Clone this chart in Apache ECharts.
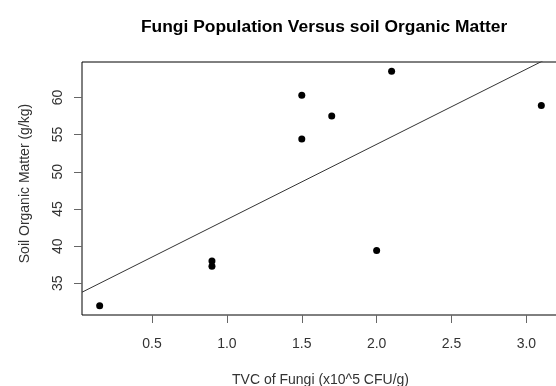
<!DOCTYPE html>
<html>
<head>
<meta charset="utf-8">
<script src="https://cdn.jsdelivr.net/npm/echarts@6/dist/echarts.min.js"></script>
<style>
  html, body { margin: 0; padding: 0; background: #fff; }
  #main { width: 556px; height: 386px; }
</style>
</head>
<body>
<div id="main"></div>
<script>
// data
const fungiTVC = [0.15, 0.9, 0.9, 1.5, 1.5, 1.7, 2.0, 2.1, 3.1]
const organicMatter = [32.0, 38.0, 37.3, 60.3, 54.4, 57.5, 39.4, 63.5, 58.9]
const xTicks = [0.5, 1.0, 1.5, 2.0, 2.5, 3.0]
const yTicks = [35, 40, 45, 50, 55, 60]

// R style axis limits: data range plus 4% each side
function pad(arr) {
  let lo = Math.min(...arr), hi = Math.max(...arr)
  let d = (hi - lo) * 0.04
  return [lo - d, hi + d]
}
const [xMin, xMax] = pad(fungiTVC)
const [yMin, yMax] = pad(organicMatter)

// least squares fit (abline(lm(y ~ x)))
let n = fungiTVC.length
let mx = fungiTVC.reduce((a, b) => a + b, 0) / n
let my = organicMatter.reduce((a, b) => a + b, 0) / n
let sxy = 0, sxx = 0
for (let i = 0; i < n; i++) {
  sxy += (fungiTVC[i] - mx) * (organicMatter[i] - my)
  sxx += (fungiTVC[i] - mx) * (fungiTVC[i] - mx)
}
let slope = sxy / sxx
let icpt = my - slope * mx
let fitLine = [xMin, xMax].map((x) => [x, icpt + slope * x])

const font = 'Liberation Sans, Arial, sans-serif'

let myChart = echarts.init(document.getElementById('main'))
let option = {
  animation: false,
  title: {
    text: 'Fungi Population Versus soil Organic Matter',
    left: 136,
    top: 14,
    textStyle: { fontFamily: font, fontSize: 17.4, fontWeight: 'bold', color: '#000' },
  },
  grid: {
    left: 82,
    top: 62,
    right: -3,
    bottom: 71,
    outerBoundsMode: 'none',
    containLabel: false,
    show: true,
    borderColor: '#000',
    borderWidth: 1,
  },
  xAxis: {
    type: 'value',
    min: xMin,
    max: xMax,
    name: 'TVC of Fungi (x10^5 CFU/g)',
    nameLocation: 'middle',
    nameGap: 58,
    nameTextStyle: { fontFamily: font, fontSize: 14, color: '#333' },
    axisLine: { show: false },
    splitLine: { show: false },
    axisTick: { show: true, length: 8, customValues: xTicks, lineStyle: { color: '#666' } },
    axisLabel: {
      customValues: xTicks,
      margin: 22,
      fontFamily: font,
      fontSize: 14,
      color: '#333',
      formatter: (v) => v.toFixed(1),
    },
  },
  yAxis: {
    type: 'value',
    min: yMin,
    max: yMax,
    name: 'Soil Organic Matter (g/kg)',
    nameLocation: 'middle',
    nameRotate: 90,
    nameGap: 50,
    nameTextStyle: { fontFamily: font, fontSize: 14, color: '#333', padding: [0, 0, 0, 10] },
    axisLine: { show: false },
    splitLine: { show: false },
    axisTick: { show: true, length: 8, customValues: yTicks, lineStyle: { color: '#666' } },
    axisLabel: {
      customValues: yTicks,
      rotate: 90,
      margin: 17,
      fontFamily: font,
      fontSize: 14,
      color: '#333',
    },
  },
  series: [
    {
      type: 'line',
      data: fitLine,
      clip: true,
      symbol: 'none',
      lineStyle: { color: '#333', width: 1 },
      z: 1,
    },
    {
      type: 'scatter',
      data: fungiTVC.map((x, i) => [x, organicMatter[i]]),
      symbol: 'circle',
      symbolSize: 7,
      itemStyle: { color: '#000', opacity: 1 },
      z: 2,
    },
  ],
}
myChart.setOption(option)
</script>
</body>
</html>
